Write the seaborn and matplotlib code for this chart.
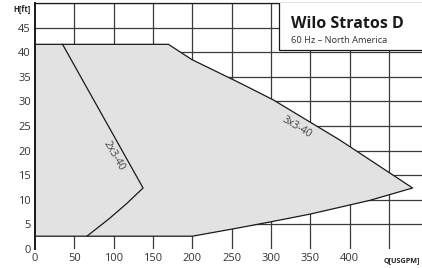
import matplotlib
matplotlib.use("Agg")
import matplotlib.pyplot as plt
import seaborn as sns
import pandas as pd
from matplotlib.patches import Rectangle

# Envelope (Q in USGPM, H in ft), clockwise
env_q = [0, 0, 169.6, 199.4, 261, 303, 388, 480, 426, 388, 350, 299, 250.6, 200, 0]
env_h = [2.6, 41.6, 41.6, 38.5, 33.7, 30.3, 22.1, 12.4, 9.9, 8.5, 7.1, 5.5, 4.05, 2.6, 2.6]

# 2x3-40 curve
c2_q = [35, 137.4, 117, 95.4, 66]
c2_h = [41.6, 12.4, 9.3, 6.3, 2.6]

x_ticks = [0, 50, 100, 150, 200, 250, 300, 350, 400]
y_ticks = [0, 5, 10, 15, 20, 25, 30, 35, 40, 45]
x_grid = [50, 100, 150, 200, 250, 300, 350, 400, 450]
y_grid = [5, 10, 15, 20, 25, 30, 35, 40, 45, 50]

sns.set_theme(style="white")
plt.rcParams['font.family'] = ['Open Sans', 'DejaVu Sans']

fig = plt.figure(figsize=(4.22, 2.68), dpi=100)
ax = fig.add_axes([35/422, 1-249/268, 1-35/422, 246/268])
ax.set_xlim(0, 492)
ax.set_ylim(0, 50)

gc = '#3a3a3a'
for g in x_grid:
    ax.axvline(g, color=gc, lw=0.9, zorder=0)
for g in y_grid:
    ax.axhline(g, color=gc, lw=0.9, zorder=0)

ax.fill(env_q, env_h, facecolor='#e2e2e2', edgecolor='none', zorder=1)
env_df = pd.DataFrame({'q': env_q, 'h': env_h})
sns.lineplot(data=env_df, x='q', y='h', sort=False, estimator=None, color='#1a1a1a', lw=0.9, ax=ax, zorder=2)
c2_df = pd.DataFrame({'q': c2_q, 'h': c2_h})
sns.lineplot(data=c2_df, x='q', y='h', sort=False, estimator=None, color='#1a1a1a', lw=0.9, ax=ax, zorder=2)

ax.text(100, 19, '2x3-40', rotation=-60, ha='center', va='center', fontsize=7.5, color='#444444', zorder=3)
ax.text(333, 24.8, '3x3-40', rotation=-31, ha='center', va='center', fontsize=7.5, color='#444444', zorder=3)

ax.add_patch(Rectangle((310, 40.4), 200, 12, facecolor='white', edgecolor='#1a1a1a', lw=0.9, zorder=4))
ax.text(325, 45.0, 'Wilo Stratos D', fontsize=11.5, fontweight='bold', color='#1a1a1a', ha='left', va='baseline', zorder=5)
ax.text(325, 41.9, '60 Hz – North America', fontsize=6.7, color='#333333', ha='left', va='baseline', zorder=5)

ax.set_xticks(x_ticks)
ax.set_yticks(y_ticks)
ax.tick_params(length=0, labelsize=8, colors='#333333', pad=3)
ax.set_xlabel('')
ax.set_ylabel('')
for s in ['right', 'bottom']:
    ax.spines[s].set_visible(False)
ax.spines['left'].set_color('#1a1a1a')
ax.spines['left'].set_linewidth(1.4)
ax.spines['top'].set_color('#1a1a1a')
ax.spines['top'].set_linewidth(0.9)

ax.text(-0.012, 0.972, 'H[ft]', transform=ax.transAxes, ha='right', va='center', fontsize=5.5, fontweight='bold', color='#222222')
fig.text(420/422, 1-261/268, 'Q[USGPM]', ha='right', va='center', fontsize=5.2, fontweight='bold', color='#222222')

fig.savefig('out.png', dpi=100)
